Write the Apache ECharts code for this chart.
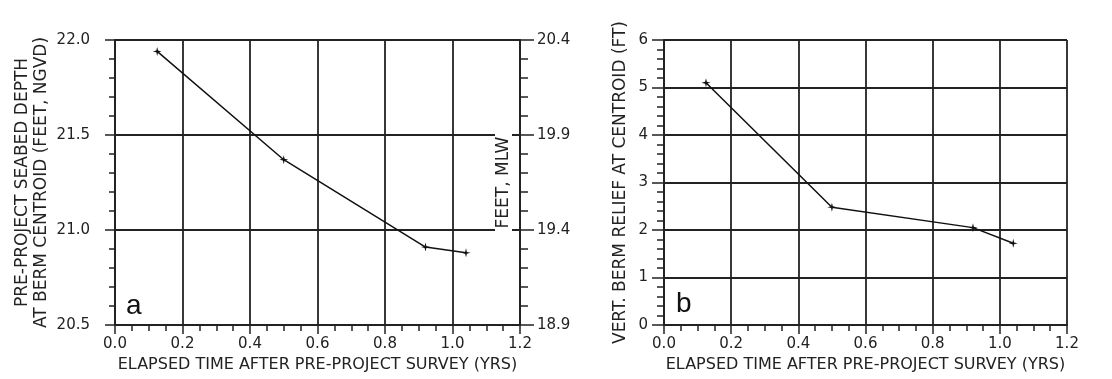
<!DOCTYPE html>
<html>
<head>
<meta charset="utf-8">
<script src="https://cdn.jsdelivr.net/npm/echarts@6/dist/echarts.min.js"></script>
<style>
  html, body { margin: 0; padding: 0; background: #fff; }
  #chart { width: 1112px; height: 379px; }
</style>
</head>
<body>
<div id="chart"></div>
<script>
// panel a: seabed depth at berm centroid
const timeA = [0.125, 0.50, 0.92, 1.04];
const depthA = [21.94, 21.37, 20.91, 20.88];
// panel b: vertical berm relief
const timeB = [0.125, 0.50, 0.92, 1.04];
const reliefB = [5.1, 2.48, 2.05, 1.72];
// right axis of panel a (feet, MLW) labels, one per left tick
const mlwLabels = ['18.9', '19.4', '19.9', '20.4'];

const ink = '#222';
const font = 'DejaVu Sans';
const star = 'path://M0,-10 L2,-2 L10,0 L2,2 L0,10 L-2,2 L-10,0 L-2,-2 Z';

const chart = echarts.init(document.getElementById('chart'), null, { renderer: 'canvas' });

function xAxisFor(gridIndex) {
  return {
    type: 'value',
    gridIndex: gridIndex,
    min: 0, max: 1.2, interval: 0.2,
    name: 'ELAPSED TIME AFTER PRE-PROJECT SURVEY (YRS)',
    nameLocation: 'middle',
    nameGap: 31,
    nameTextStyle: { color: ink, fontFamily: font, fontSize: 16 },
    axisLine: { lineStyle: { color: ink, width: 2 } },
    axisTick: { length: 9, lineStyle: { color: ink, width: 1.5 } },
    minorTick: { show: true, splitNumber: 4, length: 6, lineStyle: { color: ink, width: 1.5 } },
    axisLabel: { color: ink, fontFamily: font, fontSize: 15, margin: 12,
      formatter: v => v.toFixed(1) },
    splitLine: { show: true, lineStyle: { color: ink, width: 1.8 } }
  };
}

chart.setOption({
  animation: false,
  backgroundColor: '#fff',
  grid: [
    { left: 115, top: 40, width: 405, height: 285 },
    { left: 664, top: 40, width: 403, height: 285 }
  ],
  xAxis: [xAxisFor(0), xAxisFor(1)],
  yAxis: [
    {
      type: 'value', gridIndex: 0, position: 'left',
      min: 20.5, max: 22.0, interval: 0.5,
      name: 'PRE-PROJECT SEABED DEPTH\nAT BERM CENTROID (FEET, NGVD)',
      nameLocation: 'middle', nameGap: 64,
      nameTextStyle: { color: ink, fontFamily: font, fontSize: 17, lineHeight: 19 },
      axisLine: { lineStyle: { color: ink, width: 2 } },
      axisTick: { length: 10, lineStyle: { color: ink, width: 1.5 } },
      minorTick: { show: true, splitNumber: 5, length: 6, lineStyle: { color: ink, width: 1.5 } },
      axisLabel: { color: ink, fontFamily: font, fontSize: 15, margin: 25,
        formatter: v => v.toFixed(1) },
      splitLine: { show: true, lineStyle: { color: ink, width: 1.8 } }
    },
    {
      type: 'value', gridIndex: 0, position: 'right',
      min: 20.5, max: 22.0, interval: 0.5,
      name: 'FEET, MLW',
      nameLocation: 'middle', nameGap: -25, nameRotate: 90,
      nameTextStyle: { color: ink, fontFamily: font, fontSize: 17,
        backgroundColor: '#fff', padding: [0, 10] },
      axisLine: { show: true, lineStyle: { color: ink, width: 2 } },
      axisTick: { length: 14, lineStyle: { color: ink, width: 1.5 } },
      minorTick: { show: true, splitNumber: 5, length: 8, lineStyle: { color: ink, width: 1.5 } },
      axisLabel: { color: ink, fontFamily: font, fontSize: 15, margin: 17,
        formatter: (v, i) => mlwLabels[i] },
      splitLine: { show: false }
    },
    {
      type: 'value', gridIndex: 1, position: 'left',
      min: 0, max: 6, interval: 1,
      name: 'VERT. BERM RELIEF AT CENTROID (FT)',
      nameLocation: 'middle', nameGap: 35,
      nameTextStyle: { color: ink, fontFamily: font, fontSize: 17 },
      axisLine: { lineStyle: { color: ink, width: 2 } },
      axisTick: { length: 12, lineStyle: { color: ink, width: 1.5 } },
      minorTick: { show: true, splitNumber: 5, length: 7, lineStyle: { color: ink, width: 1.5 } },
      axisLabel: { color: ink, fontFamily: font, fontSize: 15, margin: 16 },
      splitLine: { show: true, lineStyle: { color: ink, width: 1.8 } }
    }
  ],
  series: [
    {
      type: 'line', xAxisIndex: 0, yAxisIndex: 0,
      data: timeA.map((t, i) => [t, depthA[i]]),
      symbol: star, symbolSize: 9,
      lineStyle: { color: '#111', width: 1.5 },
      itemStyle: { color: '#111' }
    },
    {
      type: 'line', xAxisIndex: 1, yAxisIndex: 2,
      data: timeB.map((t, i) => [t, reliefB[i]]),
      symbol: star, symbolSize: 9,
      lineStyle: { color: '#111', width: 1.5 },
      itemStyle: { color: '#111' }
    }
  ],
  graphic: [
    { type: 'text', left: 126, top: 292,
      style: { text: 'a', font: '28px "Liberation Sans"', fill: '#111' } },
    { type: 'text', left: 676, top: 290,
      style: { text: 'b', font: '28px "Liberation Sans"', fill: '#111' } }
  ]
});
</script>
</body>
</html>
